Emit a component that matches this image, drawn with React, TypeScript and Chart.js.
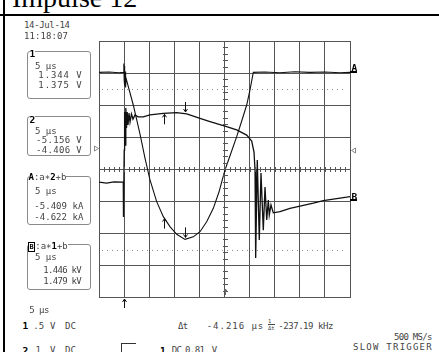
import React, { useEffect, useRef } from "react";
import { Chart, registerables } from "chart.js";
Chart.register(...registerables);

// Horizontal axis: time in µs (5 µs/div, 10 div). Vertical axis: screen divisions (8 div).
const ch1Time = [0, 2, 4, 4.85, 4.95, 5.02, 5.08, 5.14, 5.22, 5.3, 5.38, 6.83, 8.17, 9.16, 10.16, 11.49, 12.81, 14.14, 15.48, 17.13, 18.78, 20.12, 21.45, 22.77, 23.9, 25.1, 26.29, 27.43, 28.43, 29.42, 30.08, 30.74, 33, 36, 39, 42, 45, 48, 50];
const ch1Div = [3.02, 3.03, 3.01, 3.02, 3.3, 2.75, 3.22, 2.6, 3.05, 2.55, 2.84, 2.0, 1.09, 0.34, -0.34, -1.02, -1.49, -1.8, -2.04, -2.2, -2.12, -1.96, -1.65, -1.23, -0.72, -0.03, 0.5, 1.01, 1.5, 2.0, 2.47, 3.02, 3.03, 3.01, 3.04, 3.02, 3.03, 3.01, 3.02];

const ch2Time = [0, 1.5, 3, 4.84, 4.88, 5.02, 5.1, 5.22, 5.34, 5.48, 5.62, 5.78, 5.98, 6.18, 6.47, 6.77, 7.17, 7.77, 8.82, 10.16, 12.81, 15.48, 17.47, 20.12, 22.11, 25.1, 27.43, 29.42, 30.42, 30.88, 31.08, 31.21, 31.53, 31.93, 32.27, 32.73, 33.07, 33.41, 33.73, 33.92, 34.26, 34.72, 36.06, 38.05, 39.38, 42.69, 44.68, 49.34, 50];
const ch2Div = [-0.41, -0.44, -0.4, -0.41, -1.5, 0.59, 1.78, 0.75, 1.91, 1.28, 1.78, 1.38, 1.75, 1.47, 1.72, 1.56, 1.69, 1.63, 1.63, 1.69, 1.74, 1.76, 1.72, 1.58, 1.48, 1.34, 1.22, 1.06, 0.875, 0.53, -0.03, -2.78, 0.28, -2.22, -0.125, -1.91, -0.56, -1.59, -0.97, -1.44, -1.125, -1.37, -1.33, -1.23, -1.18, -1.07, -0.99, -0.88, -0.86];

// Cursor / marker values
const cursorLevels = [2.49, -2.53];
const arrowTimes = [17.13, 17.13, 12.91, 12.91];
const arrowValues = [-2.2, 1.72, -1.52, 1.74];
const arrowUp = [false, false, true, true];
const triggerTime = 5;
const centerTime = 25;
const leftTrigLevel = 0.66;
const rightTrigLevel = 0.59;
const groundLevels = [3.02, -0.97];

const FONT = '"DejaVu Sans Mono", monospace';
const TXT = "#444";

function Txt({ t, x0, x1, cy, size = 9, bold = false, color = TXT, bg }: any) {
  const n = Array.from(t as string).length;
  const w = n * 0.602 * size;
  let ls = x1 !== undefined && n > 1 ? (x1 - x0 - w) / (n - 1) : 0;
  ls = Math.max(-0.7, Math.min(2, ls));
  return (
    <div
      style={{
        position: "absolute",
        left: x0,
        top: cy - size * 0.47 + 1.8,
        fontFamily: FONT,
        fontSize: size,
        lineHeight: `${size * 1.1}px`,
        letterSpacing: ls,
        whiteSpace: "pre",
        color,
        fontWeight: bold ? "bold" : "normal",
        background: bg,
      }}
    >
      {t}
    </div>
  );
}

function Box({ x0, y0, x1, y1 }: any) {
  return (
    <div
      style={{
        position: "absolute",
        left: x0,
        top: y0,
        width: x1 - x0,
        height: y1 - y0,
        border: "1px solid #8a8a8a",
        borderRadius: 3,
        boxSizing: "border-box",
      }}
    />
  );
}

const scopePlugin = {
  id: "scope",
  afterDatasetsDraw(chart: any) {
    const { ctx, chartArea: a } = chart;
    const xs = chart.scales.x;
    const ys = chart.scales.y;
    ctx.save();
    ctx.strokeStyle = "#555";
    ctx.lineWidth = 1;
    ctx.beginPath();
    const yc = Math.round(ys.getPixelForValue(0)) + 0.5;
    for (let t = 0; t <= 50.001; t += 1) {
      const px = Math.round(xs.getPixelForValue(t)) + 0.5;
      ctx.moveTo(px, yc - 2.5);
      ctx.lineTo(px, yc + 2.5);
    }
    const xc = Math.round(xs.getPixelForValue(25)) + 0.5;
    for (let v = -4; v <= 4.001; v += 0.2) {
      const py = Math.round(ys.getPixelForValue(v)) + 0.5;
      ctx.moveTo(xc - 2.5, py);
      ctx.lineTo(xc + 2.5, py);
    }
    ctx.stroke();
    ctx.strokeStyle = "#8a8a8a";
    ctx.setLineDash([1, 4]);
    ctx.beginPath();
    cursorLevels.forEach((v) => {
      const py = Math.round(ys.getPixelForValue(v)) + 0.5;
      ctx.moveTo(a.left + 3, py);
      ctx.lineTo(a.right - 3, py);
    });
    ctx.stroke();
    ctx.setLineDash([]);
    const arrow = (px: number, tip: number, up: boolean, len: number) => {
      const d = up ? 1 : -1;
      ctx.beginPath();
      ctx.moveTo(px, tip);
      ctx.lineTo(px, tip + d * len);
      ctx.moveTo(px - 2, tip + d * 3);
      ctx.lineTo(px, tip);
      ctx.lineTo(px + 2, tip + d * 3);
      ctx.stroke();
    };
    ctx.strokeStyle = "#111";
    arrowTimes.forEach((t, i) => {
      const px = Math.round(xs.getPixelForValue(t)) + 0.5;
      const py = ys.getPixelForValue(arrowValues[i]);
      const up = arrowUp[i];
      arrow(px, up ? py + 1 : py - 2, up, 10);
    });
    arrow(Math.round(xs.getPixelForValue(triggerTime)) + 0.5, a.bottom + 2, true, 9);
    ctx.strokeStyle = "#666";
    arrow(Math.round(xs.getPixelForValue(centerTime)) + 0.5, a.bottom - 8, true, 6);
    ctx.strokeStyle = "#888";
    let py = Math.round(ys.getPixelForValue(leftTrigLevel)) + 0.5;
    ctx.beginPath();
    ctx.moveTo(a.left - 4.5, py - 2.5);
    ctx.lineTo(a.left - 0.5, py);
    ctx.lineTo(a.left - 4.5, py + 2.5);
    ctx.closePath();
    ctx.stroke();
    py = Math.round(ys.getPixelForValue(rightTrigLevel)) + 0.5;
    ctx.beginPath();
    ctx.moveTo(a.right + 5.5, py - 2.5);
    ctx.lineTo(a.right + 1.5, py);
    ctx.lineTo(a.right + 5.5, py + 2.5);
    ctx.closePath();
    ctx.stroke();
    ctx.strokeStyle = "#000";
    ctx.lineWidth = 2;
    ctx.beginPath();
    groundLevels.forEach((v) => {
      const p = Math.round(ys.getPixelForValue(v));
      ctx.moveTo(a.right, p);
      ctx.lineTo(a.right + 7, p);
    });
    ctx.stroke();
    ctx.restore();
  },
};

export default function App() {
  const ref = useRef<HTMLCanvasElement>(null);
  useEffect(() => {
    const gridColor = "#555";
    const chart = new Chart(ref.current!, {
      type: "scatter",
      data: {
        datasets: [
          {
            data: ch1Time.map((t, i) => ({ x: t, y: ch1Div[i] })),
            showLine: true,
            borderColor: "#111",
            borderWidth: 1.1,
            pointRadius: 0,
          },
          {
            data: ch2Time.map((t, i) => ({ x: t, y: ch2Div[i] })),
            showLine: true,
            borderColor: "#111",
            borderWidth: 1.3,
            pointRadius: 0,
          },
        ],
      },
      options: {
        animation: false,
        responsive: false,
        devicePixelRatio: 1,
        events: [],
        layout: { padding: { left: 9, right: 15, top: 5, bottom: 15 } },
        plugins: { legend: { display: false }, tooltip: { enabled: false } },
        scales: {
          x: {
            type: "linear",
            min: 0,
            max: 50,
            ticks: { display: false, stepSize: 5 },
            grid: { color: gridColor, lineWidth: 1, drawTicks: false },
            border: { display: true, color: gridColor },
            afterFit: (s: any) => {
              s.height = 0;
            },
          },
          y: {
            type: "linear",
            min: -4,
            max: 4,
            ticks: { display: false, stepSize: 1 },
            grid: { color: gridColor, lineWidth: 1, drawTicks: false },
            border: { display: true, color: gridColor },
            afterFit: (s: any) => {
              s.width = 0;
            },
          },
        },
      } as any,
      plugins: [scopePlugin],
    });
    return () => chart.destroy();
  }, []);

  return (
    <div
      style={{
        position: "fixed",
        left: 0,
        top: 0,
        width: 439,
        height: 352,
        overflow: "hidden",
        background: "#fff",
      }}
    >
      <div style={{ position: "absolute", left: 3, top: 0, width: 2, height: 352, background: "#000" }} />
      <div style={{ position: "absolute", left: 0, top: 13.5, width: 439, height: 2, background: "#000" }} />
      <div
        style={{
          position: "absolute",
          left: 12,
          top: -16,
          fontFamily: '"Liberation Serif", serif',
          fontSize: 28,
          lineHeight: "28px",
          whiteSpace: "pre",
          color: "#000",
        }}
      >
        Impulse 12
      </div>

      <canvas ref={ref} width={275} height={276} style={{ position: "absolute", left: 90, top: 36, width: 275, height: 276 }} />

      <Txt t="14-Jul-14" x0={24} x1={70} cy={23} />
      <Txt t="11:18:07" x0={24} x1={68} cy={34} />

      <Box x0={27} y0={51} x1={91} y1={99} />
      <Txt t="1" x0={29.5} cy={52} bold color="#000" bg="#fff" size={9.5} />
      <Txt t="5 µs" x0={35} x1={56.7} cy={64.2} />
      <Txt t="1.344 V" x0={38.3} x1={81.7} cy={73.8} />
      <Txt t="1.375 V" x0={38.3} x1={81.7} cy={83.7} />

      <Box x0={27} y0={116} x1={91} y1={156} />
      <Txt t="2" x0={29.5} cy={118} bold color="#000" bg="#fff" size={9.5} />
      <Txt t="5 µs" x0={35} x1={56.7} cy={129} />
      <Txt t="-5.156 V" x0={36} x1={81.7} cy={138.8} />
      <Txt t="-4.406 V" x0={36} x1={81.7} cy={148.8} />

      <Box x0={27} y0={175.5} x1={91} y1={225} />
      <div style={{ position: "absolute", left: 28.5, top: 172, background: "#fff", fontFamily: FONT, fontSize: 9, lineHeight: "10px", whiteSpace: "pre", color: TXT }}>
        <b style={{ color: "#000" }}>A</b>:a∗<b style={{ color: "#000" }}>2</b>+b
      </div>
      <Txt t="5 µs" x0={35} x1={56.7} cy={189.5} />
      <Txt t="-5.409 kA" x0={34.3} x1={83.3} cy={204} />
      <Txt t="-4.622 kA" x0={34.3} x1={83.3} cy={215} />

      <Box x0={27} y0={243.5} x1={91} y1={290} />
      <div style={{ position: "absolute", left: 28, top: 241, background: "#fff", fontFamily: FONT, fontSize: 9, lineHeight: "10px", whiteSpace: "pre", color: TXT }}>
        <span style={{ border: "1px solid #000", color: "#000", fontWeight: "bold", fontSize: 7, padding: "0 0.5px" }}>B</span>:a∗<b style={{ color: "#000" }}>1</b>+b
      </div>
      <Txt t="5 µs" x0={35} x1={56.7} cy={255.7} />
      <Txt t="1.446 kV" x0={43.3} x1={81.7} cy={268.8} />
      <Txt t="1.479 kV" x0={43.3} x1={81.7} cy={279.5} />

      <Txt t="A" x0={351.5} cy={66} bold color="#000" size={9.5} />
      <Txt t="B" x0={351.5} cy={195} bold color="#000" size={9.5} />

      <Txt t="5 µs" x0={29.3} x1={49.3} cy={308.3} />
      <Txt t="1" x0={22.5} cy={324} bold color="#000" size={9.5} />
      <Txt t=".5" x0={33.3} cy={324} />
      <Txt t="V" x0={50} cy={324} />
      <Txt t="DC" x0={65} x1={76} cy={324} />
      <Txt t="2" x0={22.5} cy={348.3} bold color="#000" size={9.5} />
      <Txt t="1" x0={35.5} cy={348.3} />
      <Txt t="V" x0={50} cy={348.3} />
      <Txt t="DC" x0={65} x1={76} cy={348.3} />

      <Txt t="Δt" x0={178} x1={187} cy={324} />
      <Txt t="-4.216 µs" x0={206.7} x1={263.3} cy={324} />
      <div style={{ position: "absolute", left: 268, top: 318, fontFamily: FONT, fontSize: 5.5, lineHeight: "6px", color: TXT, whiteSpace: "pre" }}>
        <div>1</div>
        <div style={{ borderTop: "1px solid #444" }}>Δt</div>
      </div>
      <Txt t="-237.19 kHz" x0={278.3} x1={333.3} cy={324} />
      <Txt t="500 MS/s" x0={394} x1={430} cy={335} />
      <Txt t="SLOW TRIGGER" x0={353} x1={431.7} cy={345} />

      <div style={{ position: "absolute", left: 121, top: 343, width: 14, height: 12, borderLeft: "1px solid #333", borderTop: "1px solid #333" }} />
      <Txt t="1" x0={160} cy={348.3} bold color="#000" size={9.5} />
      <Txt t="DC" x0={171.7} x1={181.7} cy={348.3} />
      <Txt t="0.81" x0={185} x1={205} cy={348.3} />
      <Txt t="V" x0={211.7} cy={348.3} />
    </div>
  );
}
